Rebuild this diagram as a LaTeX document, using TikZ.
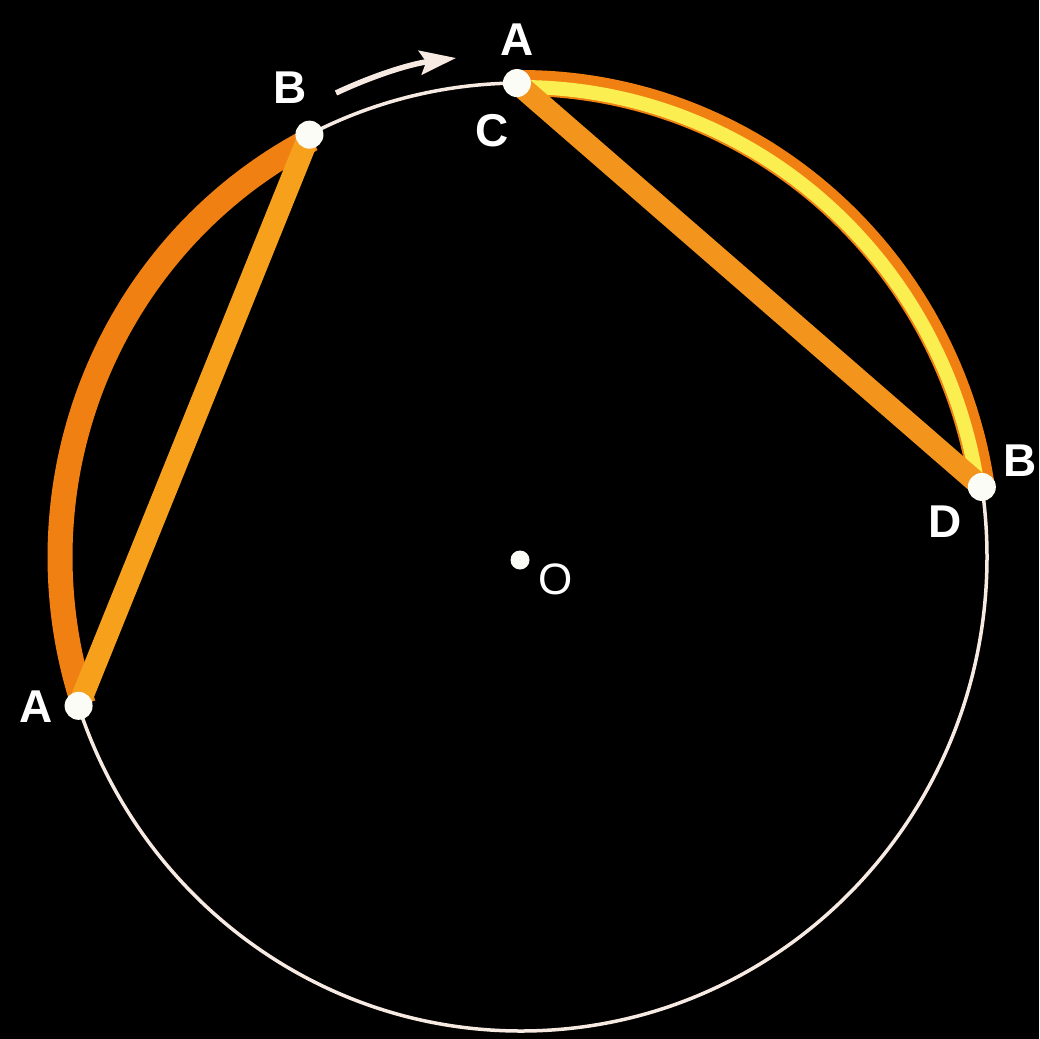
\documentclass[tikz,border=0pt]{standalone}
\usepackage{fontspec}
\setmainfont{Liberation Sans}
\usetikzlibrary{arrows.meta}
\definecolor{arcorange}{RGB}{240,128,18}
\definecolor{chordorange}{RGB}{246,160,28}
\definecolor{chordorangeR}{RGB}{243,148,28}
\definecolor{arcyellow}{RGB}{250,238,80}
\definecolor{ringwhite}{RGB}{246,234,226}
\definecolor{dotwhite}{RGB}{252,252,246}
\tikzset{
  ring/.style={draw=ringwhite, line width=3.5pt},
  arcband/.style={draw=arcorange, line width=25pt, line cap=butt},
  rarcband/.style={draw=arcorange, line width=26pt, line cap=butt},
  yellowband/.style={draw=arcyellow, line width=14pt, line cap=butt},
  chordL/.style={draw=chordorange, line width=22pt, line cap=butt},
  chordR/.style={draw=chordorangeR, line width=22pt, line cap=butt},
  ptdot/.style={circle, fill=dotwhite, inner sep=0pt, minimum size=28pt},
  odot/.style={circle, fill=dotwhite, inner sep=0pt, minimum size=19pt},
  lbl/.style={text=white, font=\bfseries\fontsize{46}{46}\selectfont, inner sep=0pt},
  olbl/.style={text=white, font=\fontsize{44}{44}\selectfont, inner sep=0pt},
  motion/.style={draw=ringwhite, line width=5.5pt, -{Stealth[length=36pt,width=24pt,inset=6pt]}}
}
\begin{document}
\begin{tikzpicture}[x=1pt,y=-1pt]
\fill[black] (0,0) rectangle (1039,1039);
\useasboundingbox (0,0) rectangle (1039,1039);
% circle (slightly elliptical as in the reference)
\coordinate (O) at (521,557);
\draw[ring] (O) ellipse [x radius=466, y radius=474];
% points on the circle
\coordinate (A1) at ({521+466*cos(161.7)},{557+474*sin(161.7)});
\coordinate (B1) at ({521+466*cos(243)},{557+474*sin(243)});
\coordinate (C) at ({521+466*cos(-90.5)},{557+474*sin(-90.5)});
\coordinate (D) at ({521+466*cos(-8.5)},{557+474*sin(-8.5)});
% left arc AB and chord
\draw[arcband] plot[domain=161.7:243, samples=90, variable=\t] ({521+461*cos(\t)},{557+469*sin(\t)});
\draw[chordL] (A1) -- (B1);
% right arc CD (orange with yellow core) and chord
\draw[rarcband] plot[domain=-90.5:-8.5, samples=90, variable=\t] ({521+466*cos(\t)},{557+474*sin(\t)});
\draw[yellowband] plot[domain=-89:-9.5, samples=90, variable=\t] ({521+462*cos(\t)},{557+470*sin(\t)});
\draw[chordR] (C) -- (D);
% dots
\node[ptdot] (dA1) at (A1) {};
\node[ptdot] (dB1) at (B1) {};
\node[ptdot] (dC) at (C) {};
\node[ptdot] (dD) at (D) {};
\node[odot] (dO) at (520,560) {};
% labels
\node[lbl] (lA1) at (36,707) {A};
\node[lbl] (lB1) at (290,88) {B};
\node[lbl] (lA2) at (517,40) {A};
\node[lbl] (lC) at (492,131) {C};
\node[lbl] (lB2) at (1020,461) {B};
\node[lbl] (lD) at (945,522) {D};
\node[olbl] (lO) at (556,579) {O};
% motion arrow
\coordinate (arrS) at (336,93);
\coordinate (arrE) at (456,58);
\draw[motion] (arrS) .. controls (372,76) and (410,64) .. (arrE);
\end{tikzpicture}
\end{document}
